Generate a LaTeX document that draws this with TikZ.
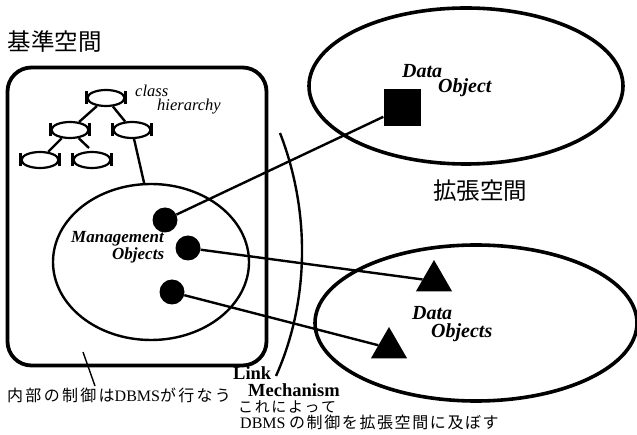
\documentclass[tikz,border=0pt]{standalone}
\usepackage{fontspec}
\setmainfont{Liberation Serif}
\newfontfamily\jp{Noto Sans CJK JP}
\usetikzlibrary{shapes.geometric}
\newcommand{\kg}{\hspace{1.6pt}}
\newcommand{\kgw}{\hspace{2.3pt}}
\begin{document}
\begin{tikzpicture}[x=1pt,y=-1pt,
  cls/.style={ellipse,draw,line width=2.2pt,minimum width=37pt,minimum height=16pt,inner sep=0pt},
  bar/.style={line width=3pt},
  link/.style={line width=2.4pt},
  dot/.style={circle,fill=black,minimum size=25pt,inner sep=0pt},
  tri/.style={regular polygon,regular polygon sides=3,fill=black,minimum size=42pt,inner sep=0pt},
  space/.style={ellipse,draw,line width=3.6pt,inner sep=0pt},
  lbl/.style={font=\fontsize{20}{20}\selectfont\bfseries\itshape,inner sep=0pt,anchor=base west},
  mlbl/.style={font=\fontsize{17}{17}\selectfont\bfseries\itshape,inner sep=0pt,anchor=base west},
  ilbl/.style={font=\fontsize{16.5}{16.5}\selectfont\itshape,inner sep=0pt,anchor=base west},
  blbl/.style={font=\fontsize{18.5}{18.5}\selectfont\bfseries,inner sep=0pt,anchor=base west},
  jlbl/.style={font=\fontsize{16}{16}\selectfont\jp,inner sep=0pt,anchor=base west},
  jbig/.style={font=\fontsize{23.5}{23.5}\selectfont\jp,inner sep=0pt},
  ]
\useasboundingbox (0,0) rectangle (637,435);

% base space box
\node[draw,line width=3.8pt,rounded corners=24pt,minimum width=259pt,minimum height=298pt,inner sep=0pt] (base) at (137,216.5) {};
\node[jbig] (t1) at (55,42) {基準空間};

% class hierarchy
\node[cls] (c1) at (106,98) {};
\node[cls] (c2) at (70,130) {};
\node[cls] (c3) at (132,130) {};
\node[cls] (c4) at (40,160) {};
\node[cls] (c5) at (92,160) {};
\foreach \n in {c1,c2,c3,c4,c5}{
  \draw[bar] ([yshift=-6.5pt]\n.west) -- ([yshift=6.5pt]\n.west);
  \draw[bar] ([yshift=-6.5pt]\n.east) -- ([yshift=6.5pt]\n.east);
}
\coordinate (c25) at (89,148);
\draw[link] (c1) -- (c2);
\draw[link] (c1) -- (c3);
\draw[link] (c2) -- (c4);
\draw[link] (c2) -- (c25);
\node[ilbl] (cl1) at (135,97) {class};
\node[ilbl] (cl2) at (157,111) {hierarchy};

% management objects
\node[ellipse,draw,line width=2.4pt,minimum width=196pt,minimum height=156pt,inner sep=0pt] (mgmt) at (151,262) {};
\draw[link] (c3) -- (mgmt.95);
\node[dot] (d1) at (165,220) {};
\node[dot] (d2) at (188,248) {};
\node[dot] (d3) at (172,292) {};
\node[mlbl] (m1) at (71,243) {Management};
\node[mlbl] (m2) at (112,260) {Objects};

% extension spaces
\node[space,minimum width=314pt,minimum height=156pt] (e1) at (466,86) {};
\node[space,minimum width=322pt,minimum height=156pt] (e2) at (476,323) {};
\node[jbig] (t2) at (480,191) {拡張空間};
\node[fill=black,minimum size=37pt,inner sep=0pt] (sq) at (402,108) {};
\node[lbl] (do1) at (402,78) {Data};
\node[lbl] (do2) at (438,93) {Object};
\node[tri] (tr1) at (434,281) {};
\node[tri] (tr2) at (389,348) {};
\node[lbl] (ds1) at (412,320) {Data};
\node[lbl] (ds2) at (431,338) {Objects};

% links
\draw[link] (d1) -- (sq);
\draw[link] (d2) -- (tr1);
\draw[link] (d3) -- (tr2);

% link mechanism
\coordinate (arcTop) at (280,133);
\coordinate (arcEnd) at (276,376);
\draw[link] (arcTop) .. controls (310,210) and (310,300) .. (arcEnd);
\node[blbl] (lk1) at (233,379) {Link};
\node[blbl] (lk2) at (248,396) {Mechanism};
\node[jlbl,font=\fontsize{15}{15}\selectfont\jp] (lk3) at (238,412) {こ\kg れ\kg に\kg よ\kg っ\kg て};
\node[jlbl] (lk4) at (240,428) {{\rmfamily DBMS} の\kg 制\kg 御\kg を\kg 拡\kg 張\kg 空\kg 間\kg に\kg 及\kg ぼ\kg す};

% inner control note
\node[jlbl] (inner) at (7,401) {内\kgw 部\kgw の\kgw 制\kgw 御\kgw は{\rmfamily DBMS}が\kgw 行\kgw な\kgw う};
\coordinate (pinA) at (83,352);
\coordinate (pinB) at (95,386);
\draw[line width=1.4pt] (pinA) -- (pinB);
\end{tikzpicture}
\end{document}
